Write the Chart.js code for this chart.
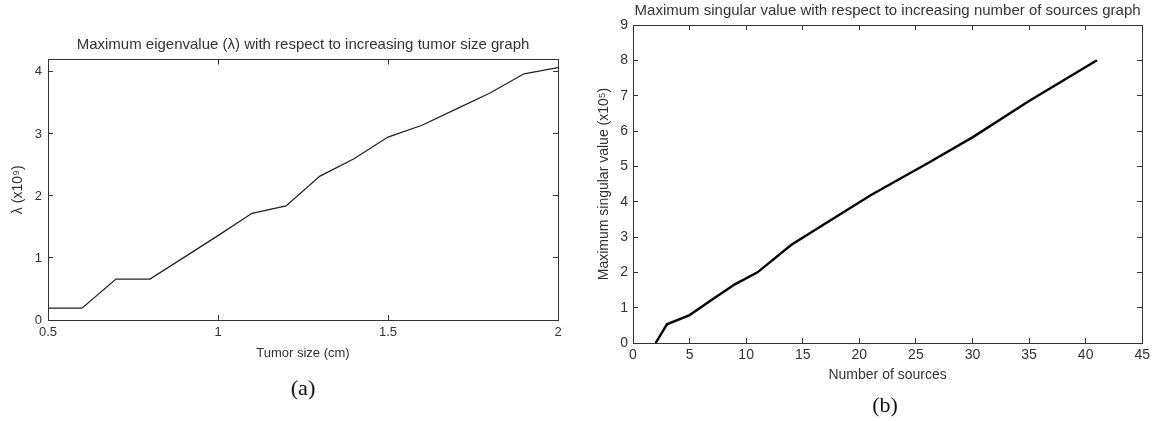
<!DOCTYPE html>
<html><head><meta charset="utf-8">
<script src="https://cdn.jsdelivr.net/npm/chart.js@4.4.1/dist/chart.umd.min.js"></script>
<style>
body{margin:0;background:#fff;width:1159px;height:421px;overflow:hidden;position:relative;}
#ca{position:absolute;left:0;top:0;}
#cb{position:absolute;left:560px;top:0;}
.cap{position:absolute;font-family:"Liberation Serif","Times New Roman",serif;font-size:22px;color:#111;transform:translateX(-50%);line-height:1;}
</style></head><body>
<canvas id="ca" width="580" height="370"></canvas>
<canvas id="cb" width="599" height="395"></canvas>
<div class="cap" style="left:303px;top:377px">(a)</div>
<div class="cap" style="left:885px;top:394px">(b)</div>
<script>
// ---- data (a) ----
const tumorSize  = [0.5, 0.6, 0.7, 0.8, 0.9, 1.0, 1.1, 1.2, 1.3, 1.4, 1.5, 1.6, 1.7, 1.8, 1.9, 2.0];
const eigenvalue = [0.19, 0.19, 0.66, 0.66, 1.01, 1.36, 1.72, 1.84, 2.32, 2.60, 2.95, 3.14, 3.40, 3.66, 3.97, 4.07];
const tumorTicks = {min: 0.5, max: 2, step: 0.5};
const eigenTicks = {min: 0, max: 4.2, step: 1};
// ---- data (b) ----
const sources       = [2, 3, 5, 7, 9, 11, 14, 17, 21, 26, 30, 35, 41];
const singularValue = [0, 0.53, 0.79, 1.23, 1.66, 2.0, 2.78, 3.38, 4.18, 5.08, 5.82, 6.85, 8.0];
const sourceTicks   = {min: 0, max: 45, step: 5};
const singularTicks = {min: 0, max: 9, step: 1};

Chart.defaults.font.family = '"Liberation Sans", Arial, sans-serif';
Chart.defaults.color = '#333';

// centre the chart title over the plot area (as in the original figure)
const centerTitle = {
  id: 'centerTitle',
  afterLayout(chart) {
    const t = chart.titleBlock;
    if (t) { t.left = chart.chartArea.left; t.right = chart.chartArea.right; }
  }
};

const AX = '#333';
const fmt = v => String(Number(v.toFixed(2)));
function mainAxis(t, o) {
  return {
    type: 'linear', min: t.min, max: t.max, position: o.position,
    ticks: {stepSize: t.step, includeBounds: false, padding: o.tickPad, font: {size: o.tickSize}, color: '#333',
      autoSkip: false, maxRotation: 0, callback: fmt},
    grid: {drawOnChartArea: false, drawTicks: true, tickLength: -5, color: AX, lineWidth: 1},
    border: {display: true, color: AX, width: 1},
    title: {display: true, text: o.title, font: {size: o.titleSize}, color: '#333', padding: o.titlePad},
    afterFit: o.fit
  };
}
function boxAxis(t, position, fit) {
  return {
    type: 'linear', min: t.min, max: t.max, position: position,
    ticks: {display: false, stepSize: t.step, includeBounds: false},
    grid: {drawOnChartArea: false, drawTicks: true, tickLength: -5, color: AX, lineWidth: 1},
    border: {display: true, color: AX, width: 1},
    afterFit: fit
  };
}

new Chart(document.getElementById('ca'), {
  type: 'scatter',
  data: {datasets: [{
    data: tumorSize.map((x, i) => ({x: x, y: eigenvalue[i]})),
    showLine: true, borderColor: '#222', borderWidth: 1.3, pointRadius: 0, tension: 0
  }]},
  plugins: [centerTitle],
  options: {
    responsive: false, animation: false,
    layout: {padding: {left: 0, right: 22, top: 0, bottom: 0}},
    plugins: {
      legend: {display: false}, tooltip: {enabled: false},
      title: {display: true, text: 'Maximum eigenvalue (λ) with respect to increasing tumor size graph',
        font: {size: 15, weight: 'normal'}, color: '#333', padding: {top: 36, bottom: 5.5}}
    },
    scales: {
      x: mainAxis(tumorTicks, {position: 'bottom', tickPad: 10, tickSize: 13, title: 'Tumor size (cm)', titleSize: 13,
        titlePad: {top: 0, bottom: 9}, fit: s => { s.height = 50; }}),
      y: mainAxis(eigenTicks, {position: 'left', tickPad: 11, tickSize: 13, title: 'λ (x10⁹)', titleSize: 14,
        titlePad: {top: 10, bottom: 0}, fit: s => { s.width = 48; }}),
      x2: boxAxis(tumorTicks, 'top', s => { s.height = 0; }),
      y2: boxAxis(eigenTicks, 'right', s => { s.width = 0; })
    }
  }
});

new Chart(document.getElementById('cb'), {
  type: 'scatter',
  data: {datasets: [{
    data: sources.map((x, i) => ({x: x, y: singularValue[i]})),
    showLine: true, borderColor: '#000', borderWidth: 2.4, pointRadius: 0, tension: 0
  }]},
  plugins: [centerTitle],
  options: {
    responsive: false, animation: false,
    layout: {padding: {left: 0, right: 12, top: 0, bottom: 0}},
    plugins: {
      legend: {display: false}, tooltip: {enabled: false},
      title: {display: true, text: 'Maximum singular value with respect to increasing number of sources graph',
        font: {size: 15, weight: 'normal'}, color: '#333', padding: {top: 2, bottom: 5}}
    },
    scales: {
      x: mainAxis(sourceTicks, {position: 'bottom', tickPad: 9, tickSize: 14, title: 'Number of sources', titleSize: 14,
        titlePad: {top: 0, bottom: 11}, fit: s => { s.height = 52; }}),
      y: mainAxis(singularTicks, {position: 'left', tickPad: 10, tickSize: 14, title: 'Maximum singular value (x10⁵)', titleSize: 14,
        titlePad: {top: 36, bottom: 0}, fit: s => { s.width = 73; }}),
      x2: boxAxis(sourceTicks, 'top', s => { s.height = 0; }),
      y2: boxAxis(singularTicks, 'right', s => { s.width = 0; })
    }
  }
});
</script>
</body></html>
